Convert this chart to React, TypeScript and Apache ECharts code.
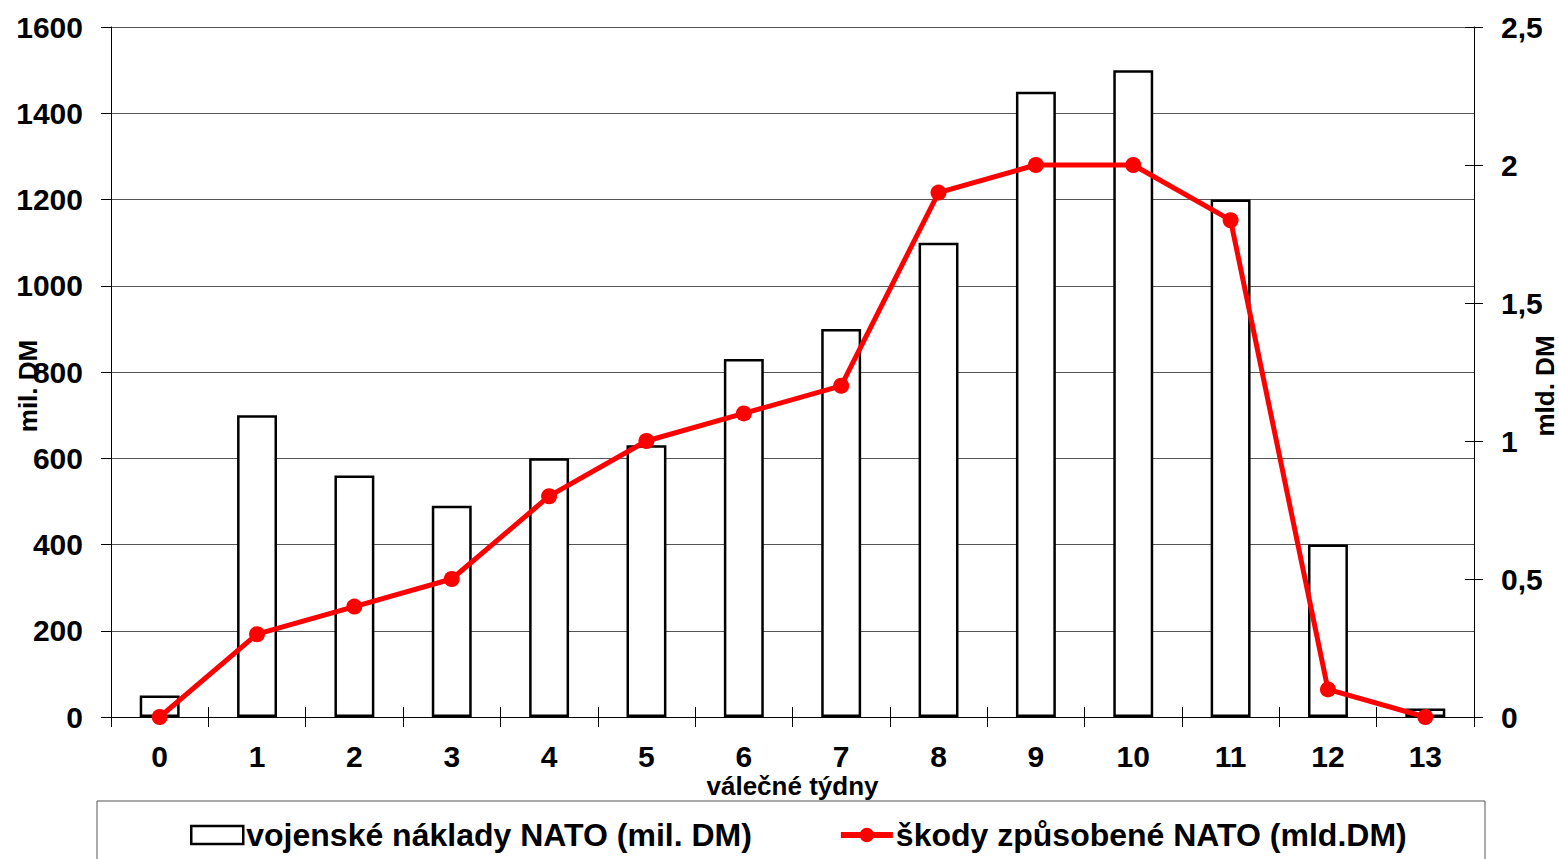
import React, { useEffect, useRef } from "react";
import * as echarts from "echarts";

const weeks = ["0", "1", "2", "3", "4", "5", "6", "7", "8", "9", "10", "11", "12", "13"];
const costs = [50, 700, 560, 490, 600, 630, 830, 900, 1100, 1450, 1500, 1200, 400, 20];
const damages = [0, 0.3, 0.4, 0.5, 0.8, 1.0, 1.1, 1.2, 1.9, 2.0, 2.0, 1.8, 0.1, 0];
const costName = "vojenské náklady NATO (mil. DM)";
const damageName = "škody způsobené NATO (mld.DM)";

const FONT = "Liberation Sans, Arial, sans-serif";

export default function App() {
  const ref = useRef<HTMLDivElement>(null);
  useEffect(() => {
    document.body.style.margin = "0";
    const chart = echarts.init(ref.current!, undefined, { renderer: "svg" });
    const label = { fontFamily: FONT, fontWeight: "bold" as const, fontSize: 30, color: "#000" };
    chart.setOption({
      animation: false,
      backgroundColor: "#fff",
      grid: { left: 111, right: 85, top: 27, bottom: 142, containLabel: false, outerBoundsMode: "none" },
      graphic: [
        {
          type: "rect",
          shape: { x: 97, y: 801, width: 1388, height: 80 },
          style: { fill: "none", stroke: "#555", lineWidth: 1 },
          silent: true,
        },
      ],
      legend: {
        left: 185,
        top: 814,
        itemWidth: 52,
        itemHeight: 18,
        itemGap: 86,
        textStyle: { fontFamily: FONT, fontWeight: "bold", fontSize: 32, color: "#000", padding: [0, 0, 0, -2] },
        data: [
          { name: costName, icon: "rect", itemStyle: { color: "#fff", borderColor: "#000", borderWidth: 2.5 } },
          { name: damageName, lineStyle: { width: 6, color: "#ff0000" }, itemStyle: { color: "#ff0000" } },
        ],
      },
      xAxis: [
        {
          type: "category",
          data: weeks,
          boundaryGap: true,
          axisLine: { lineStyle: { color: "#000", width: 1 } },
          axisTick: { show: true, length: 10, lineStyle: { color: "#000" } },
          axisLabel: { ...label, margin: 24 },
          name: "válečné týdny",
          nameLocation: "middle",
          nameGap: 56,
          nameMoveOverlap: false,
          nameTextStyle: { fontFamily: FONT, fontWeight: "bold", fontSize: 26, color: "#000" },
        },
        {
          type: "category",
          data: weeks,
          position: "bottom",
          boundaryGap: true,
          axisLine: { show: false },
          axisTick: { show: true, inside: true, length: 10, lineStyle: { color: "#000" } },
          axisLabel: { show: false },
        },
      ],
      yAxis: [
        {
          type: "value",
          min: 0,
          max: 1600,
          interval: 200,
          position: "left",
          axisLine: { show: true, lineStyle: { color: "#000", width: 1 } },
          axisTick: { show: true, length: 10, lineStyle: { color: "#000" } },
          axisLabel: { ...label, margin: 28, formatter: (v: number) => String(v) },
          splitLine: { show: true, lineStyle: { color: "#555", width: 1 } },
          name: "mil. DM",
          nameLocation: "middle",
          nameRotate: 90,
          nameGap: 70,
          nameMoveOverlap: false,
          nameTextStyle: { fontFamily: FONT, fontWeight: "bold", fontSize: 26, color: "#000", padding: [0, 28, 0, 0] },
        },
        {
          type: "value",
          min: 0,
          max: 2.5,
          interval: 0.5,
          position: "right",
          axisLine: { show: true, lineStyle: { color: "#000", width: 1 } },
          axisTick: { show: true, length: 9, lineStyle: { color: "#000" } },
          axisLabel: {
            ...label,
            margin: 27,
            formatter: (v: number) => String(v).replace(".", ","),
          },
          splitLine: { show: false },
          name: "mld. DM",
          nameLocation: "middle",
          nameRotate: 90,
          nameGap: 58,
          nameMoveOverlap: false,
          nameTextStyle: { fontFamily: FONT, fontWeight: "bold", fontSize: 26, color: "#000", padding: [0, 28, 0, 0] },
        },
        {
          type: "value",
          min: 0,
          max: 2.5,
          interval: 0.5,
          position: "right",
          axisLine: { show: false },
          axisTick: { show: true, inside: true, length: 9, lineStyle: { color: "#000" } },
          axisLabel: { show: false },
          splitLine: { show: false },
        },
      ],
      series: [
        {
          name: costName,
          type: "bar",
          data: costs,
          xAxisIndex: 0,
          yAxisIndex: 0,
          barWidth: "41%",
          itemStyle: { color: "#fff", borderColor: "#000", borderWidth: 2.5 },
        },
        {
          name: damageName,
          type: "line",
          data: damages,
          xAxisIndex: 0,
          yAxisIndex: 1,
          symbol: "circle",
          symbolSize: 16,
          lineStyle: { color: "#ff0000", width: 5 },
          itemStyle: { color: "#ff0000" },
        },
      ],
    });
    return () => chart.dispose();
  }, []);
  return <div ref={ref} style={{ width: 1559, height: 859 }} />;
}
